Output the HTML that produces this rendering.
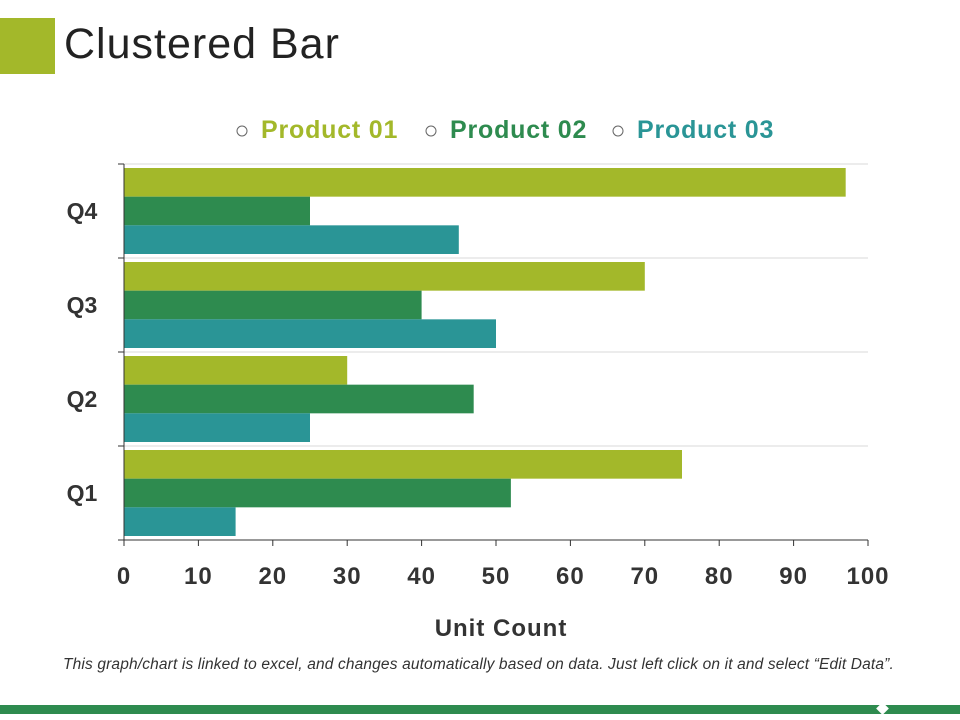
<!DOCTYPE html>
<html><head><meta charset="utf-8"><style>
body{margin:0;width:960px;height:720px;background:#fff;font-family:"Liberation Sans",sans-serif;overflow:hidden;position:relative}
</style></head><body>
<div style="position:absolute;left:0;top:18px;width:55px;height:56px;background:#a3b82a"></div>
<div style="position:absolute;left:64px;top:20px;font-size:43px;letter-spacing:1px;color:#222">Clustered Bar</div>
<svg id="chart" width="960" height="720" style="position:absolute;left:0;top:0"></svg>
<div style="position:absolute;left:63px;top:656px;font-size:15.5px;letter-spacing:0.15px;font-style:italic;color:#333;white-space:nowrap">This graph/chart is linked to excel, and changes automatically based on data. Just left click on it and select “Edit Data”.</div>
<div style="position:absolute;left:0;top:705px;width:960px;height:9px;background:#2e8b4f"></div>
<div style="position:absolute;left:878px;top:704px;width:9px;height:9px;background:#fff;transform:rotate(45deg)"></div>
<script>
const categories=["Q1","Q2","Q3","Q4"];
const seriesNames=["Product 01","Product 02","Product 03"];
const product01=[75,30,70,97];
const product02=[52,47,40,25];
const product03=[15,25,50,45];
const xTicks=[0,10,20,30,40,50,60,70,80,90,100];
const colors=["#a3b82a","#2e8b4f","#2a9596"];
const svg=document.getElementById('chart');
const NS="http://www.w3.org/2000/svg";
const X0=124,X1=868,Ytop=164,Ybot=540;
const xs=v=>X0+(v-0)/(100-0)*(X1-X0);
const band=(Ybot-Ytop)/categories.length;
const bandTop=i=>Ybot-(i+1)*band;
function mk(t,a){const e=document.createElementNS(NS,t);for(const k in a)e.setAttribute(k,a[k]);svg.appendChild(e);return e;}
for(let i=0;i<=categories.length;i++){const y=Ytop+i*band;
 const g=mk('line',{x1:X0,x2:X1,y1:y,y2:y,stroke:'#d9d9d9','stroke-width':1});
 
 const t=mk('line',{x1:X0-6,x2:X0,y1:y,y2:y,stroke:'#333','stroke-width':1});
 }
const series=[product01,product02,product03];
const bh=(band-8)/3;
categories.forEach((c,i)=>{
 series.forEach((s,j)=>{
  const r=mk('rect',{x:X0,y:bandTop(i)+4+j*bh,width:xs(s[i])-X0,height:bh,fill:colors[j]});
  
  
 });
 const t=mk('text',{x:82,y:bandTop(i)+band/2+8,'text-anchor':'middle','font-size':23,'font-weight':'bold',fill:'#333'});
 t.textContent=c;
});
const ya=mk('line',{x1:X0,x2:X0,y1:Ytop,y2:Ybot,stroke:'#333','stroke-width':1});

const xa=mk('line',{x1:X0,x2:X1,y1:Ybot,y2:Ybot,stroke:'#333','stroke-width':1});

xTicks.forEach(v=>{
 const l=mk('line',{x1:xs(v),x2:xs(v),y1:Ybot,y2:Ybot+6,stroke:'#333'});
 
 const t=mk('text',{x:xs(v),y:584,'text-anchor':'middle','font-size':24,'font-weight':'bold','letter-spacing':1,fill:'#333'});
 t.textContent=v;
});
const xt=mk('text',{x:501,y:636,'text-anchor':'middle','font-size':24,'font-weight':'bold','letter-spacing':1,fill:'#333'});
xt.textContent='Unit Count';
const lx=[242,431,618];
seriesNames.forEach((n,j)=>{
 const c=mk('circle',{cx:lx[j],cy:131,r:5,fill:'none',stroke:'#666','stroke-width':1});
 
 const t=mk('text',{x:lx[j]+19,y:138,'font-size':25,'font-weight':'bold','letter-spacing':0.8,fill:colors[j]});
 t.textContent=n;
});
</script>
</body></html>
